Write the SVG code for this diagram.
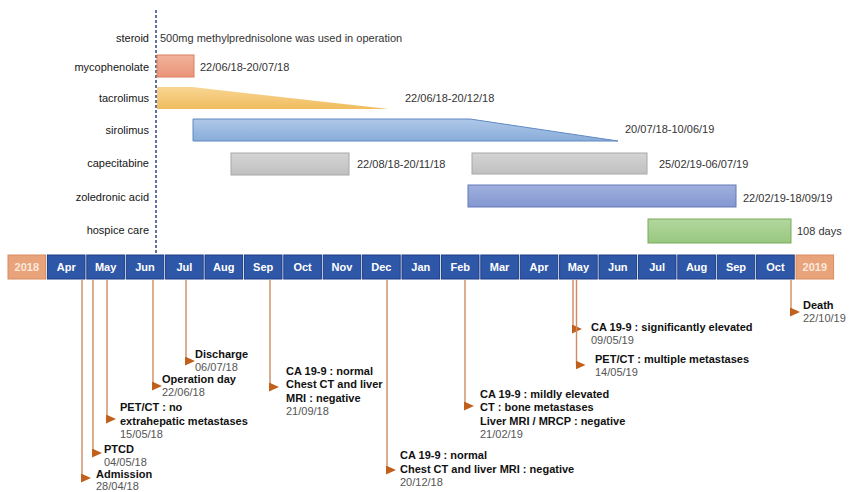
<svg xmlns="http://www.w3.org/2000/svg" width="849" height="492" viewBox="0 0 849 492">
<defs>
<style>
text{font-family:"Liberation Sans",Arial,sans-serif;}
.lbl{font-size:11px;fill:#151515;text-anchor:end;}
.rng{font-size:11px;fill:#333;}
.cell{fill:#2f57a7;stroke:#1c3d85;stroke-width:1;}
.yr{fill:#e9a37a;stroke:#d88b60;stroke-width:1;}
.ct{font-size:11px;font-weight:bold;fill:#ffffff;text-anchor:middle;}
.yt{font-size:11px;font-weight:bold;fill:#fbe8dc;text-anchor:middle;}
.ev{font-size:11px;font-weight:bold;fill:#111;}
.dt{font-size:11px;fill:#555;}
.conn{fill:none;stroke:#cf8a62;stroke-width:1.4;marker-end:url(#tri);}
</style>
<marker id="tri" markerUnits="userSpaceOnUse" markerWidth="10" markerHeight="10" refX="1" refY="4.5" orient="0">
<path d="M0,0 L10,4.5 L0,9 Z" fill="#c0601c"/>
</marker>
<linearGradient id="gMy" x1="0" y1="0" x2="0" y2="1"><stop offset="0" stop-color="#f2b29b"/><stop offset="1" stop-color="#e99478"/></linearGradient>
<linearGradient id="gTa" x1="0" y1="0" x2="0" y2="1"><stop offset="0" stop-color="#f8d592"/><stop offset="1" stop-color="#f0bd5e"/></linearGradient>
<linearGradient id="gSi" x1="0" y1="0" x2="0" y2="1"><stop offset="0" stop-color="#afc8e8"/><stop offset="1" stop-color="#88acd9"/></linearGradient>
<linearGradient id="gCa" x1="0" y1="0" x2="0" y2="1"><stop offset="0" stop-color="#d4d4d4"/><stop offset="1" stop-color="#c0c0c0"/></linearGradient>
<linearGradient id="gZo" x1="0" y1="0" x2="0" y2="1"><stop offset="0" stop-color="#9fb0de"/><stop offset="1" stop-color="#8497d0"/></linearGradient>
<linearGradient id="gHo" x1="0" y1="0" x2="0" y2="1"><stop offset="0" stop-color="#b3d79e"/><stop offset="1" stop-color="#98c77e"/></linearGradient>
</defs>
<rect width="849" height="492" fill="#ffffff"/>

<line x1="156" y1="10" x2="156" y2="254" stroke="#1f3775" stroke-width="1.4" stroke-dasharray="3,2"/>

<g id="steroid">
<text class="lbl" x="149" y="42">steroid</text>
<text class="rng" x="160" y="42" fill="#444">500mg methylprednisolone was used in operation</text>
</g>
<g id="mycophenolate">
<text class="lbl" x="149" y="71">mycophenolate</text>
<rect x="157" y="55" width="37" height="22" fill="url(#gMy)" stroke="#d9805f" stroke-width="1"/>
<text class="rng" x="200" y="71">22/06/18-20/07/18</text>
</g>
<g id="tacrolimus">
<text class="lbl" x="149" y="102">tacrolimus</text>
<polygon points="157,87 192,87 389,109 157,109" fill="url(#gTa)"/>
<text class="rng" x="405" y="102">22/06/18-20/12/18</text>
</g>
<g id="sirolimus">
<text class="lbl" x="149" y="134">sirolimus</text>
<polygon points="193,119 470,119 618,141 193,141" fill="url(#gSi)" stroke="#5f88c2" stroke-width="1"/>
<text class="rng" x="625" y="133">20/07/18-10/06/19</text>
</g>
<g id="capecitabine">
<text class="lbl" x="149" y="167">capecitabine</text>
<rect x="231" y="153" width="118" height="22" fill="url(#gCa)" stroke="#a8a8a8" stroke-width="1"/>
<text class="rng" x="357" y="168">22/08/18-20/11/18</text>
<rect x="472" y="153" width="175" height="21" fill="url(#gCa)" stroke="#a8a8a8" stroke-width="1"/>
<text class="rng" x="659" y="168">25/02/19-06/07/19</text>
</g>
<g id="zoledronic">
<text class="lbl" x="149" y="201">zoledronic acid</text>
<rect x="468" y="185" width="268" height="22" fill="url(#gZo)" stroke="#6478b8" stroke-width="1"/>
<text class="rng" x="743" y="202">22/02/19-18/09/19</text>
</g>
<g id="hospice">
<text class="lbl" x="149" y="234">hospice care</text>
<rect x="648" y="219" width="143" height="24" fill="url(#gHo)" stroke="#7aab5f" stroke-width="1"/>
<text class="rng" x="797" y="235">108 days</text>
</g>

<g id="timeline">
<rect class="yr" x="8" y="255" width="37.6" height="24"/><text class="yt" x="26.8" y="271">2018</text>
<rect class="cell" x="47.4" y="255" width="37.6" height="24"/><text class="ct" x="66.2" y="271">Apr</text>
<rect class="cell" x="86.8" y="255" width="37.6" height="24"/><text class="ct" x="105.6" y="271">May</text>
<rect class="cell" x="126.2" y="255" width="37.6" height="24"/><text class="ct" x="145" y="271">Jun</text>
<rect class="cell" x="165.6" y="255" width="37.6" height="24"/><text class="ct" x="184.4" y="271">Jul</text>
<rect class="cell" x="205" y="255" width="37.6" height="24"/><text class="ct" x="223.8" y="271">Aug</text>
<rect class="cell" x="244.4" y="255" width="37.6" height="24"/><text class="ct" x="263.2" y="271">Sep</text>
<rect class="cell" x="283.8" y="255" width="37.6" height="24"/><text class="ct" x="302.6" y="271">Oct</text>
<rect class="cell" x="323.2" y="255" width="37.6" height="24"/><text class="ct" x="342" y="271">Nov</text>
<rect class="cell" x="362.6" y="255" width="37.6" height="24"/><text class="ct" x="381.4" y="271">Dec</text>
<rect class="cell" x="402" y="255" width="37.6" height="24"/><text class="ct" x="420.8" y="271">Jan</text>
<rect class="cell" x="441.4" y="255" width="37.6" height="24"/><text class="ct" x="460.2" y="271">Feb</text>
<rect class="cell" x="480.8" y="255" width="37.6" height="24"/><text class="ct" x="499.6" y="271">Mar</text>
<rect class="cell" x="520.2" y="255" width="37.6" height="24"/><text class="ct" x="539" y="271">Apr</text>
<rect class="cell" x="559.6" y="255" width="37.6" height="24"/><text class="ct" x="578.4" y="271">May</text>
<rect class="cell" x="599" y="255" width="37.6" height="24"/><text class="ct" x="617.8" y="271">Jun</text>
<rect class="cell" x="638.4" y="255" width="37.6" height="24"/><text class="ct" x="657.2" y="271">Jul</text>
<rect class="cell" x="677.8" y="255" width="37.6" height="24"/><text class="ct" x="696.6" y="271">Aug</text>
<rect class="cell" x="717.2" y="255" width="37.6" height="24"/><text class="ct" x="736" y="271">Sep</text>
<rect class="cell" x="756.6" y="255" width="37.6" height="24"/><text class="ct" x="775.4" y="271">Oct</text>
<rect class="yr" x="796" y="255" width="37.6" height="24"/><text class="yt" x="814.8" y="271">2019</text>
</g>

<g id="connectors">
<path class="conn" d="M82,280 V478"/>
<path class="conn" d="M93,280 V453"/>
<path class="conn" d="M107,280 V419"/>
<path class="conn" d="M153,280 V386"/>
<path class="conn" d="M186,280 V361"/>
<path class="conn" d="M270,280 V387"/>
<path class="conn" d="M387,280 V470"/>
<path class="conn" d="M465,280 V406"/>
<path class="conn" d="M573,280 V329"/>
<path class="conn" d="M576.5,280 V365"/>
<path class="conn" d="M791,280 V312"/>
</g>

<g id="ev-admission"><text class="ev" x="96" y="478">Admission</text><text class="dt" x="96" y="490">28/04/18</text></g>
<g id="ev-ptcd"><text class="ev" x="104" y="453">PTCD</text><text class="dt" x="104" y="466">04/05/18</text></g>
<g id="ev-petct1"><text class="ev" x="120" y="411">PET/CT : no</text><text class="ev" x="120" y="425">extrahepatic metastases</text><text class="dt" x="120" y="438">15/05/18</text></g>
<g id="ev-operation"><text class="ev" x="162" y="383">Operation day</text><text class="dt" x="162" y="396">22/06/18</text></g>
<g id="ev-discharge"><text class="ev" x="195" y="358">Discharge</text><text class="dt" x="195" y="371">06/07/18</text></g>
<g id="ev-sep"><text class="ev" x="286" y="375">CA 19-9 : normal</text><text class="ev" x="286" y="388">Chest CT and liver</text><text class="ev" x="286" y="402">MRI : negative</text><text class="dt" x="286" y="415">21/09/18</text></g>
<g id="ev-dec"><text class="ev" x="400" y="459">CA 19-9 : normal</text><text class="ev" x="400" y="473">Chest CT and liver MRI : negative</text><text class="dt" x="400" y="486">20/12/18</text></g>
<g id="ev-feb"><text class="ev" x="480" y="398">CA 19-9 : mildly elevated</text><text class="ev" x="480" y="411">CT : bone metastases</text><text class="ev" x="480" y="425">Liver MRI / MRCP : negative</text><text class="dt" x="480" y="438">21/02/19</text></g>
<g id="ev-may1"><text class="ev" x="591" y="331">CA 19-9 : significantly elevated</text><text class="dt" x="591" y="344">09/05/19</text></g>
<g id="ev-may2"><text class="ev" x="595" y="363">PET/CT : multiple metastases</text><text class="dt" x="595" y="376">14/05/19</text></g>
<g id="ev-death"><text class="ev" x="803" y="309">Death</text><text class="dt" x="803" y="322">22/10/19</text></g>
</svg>
